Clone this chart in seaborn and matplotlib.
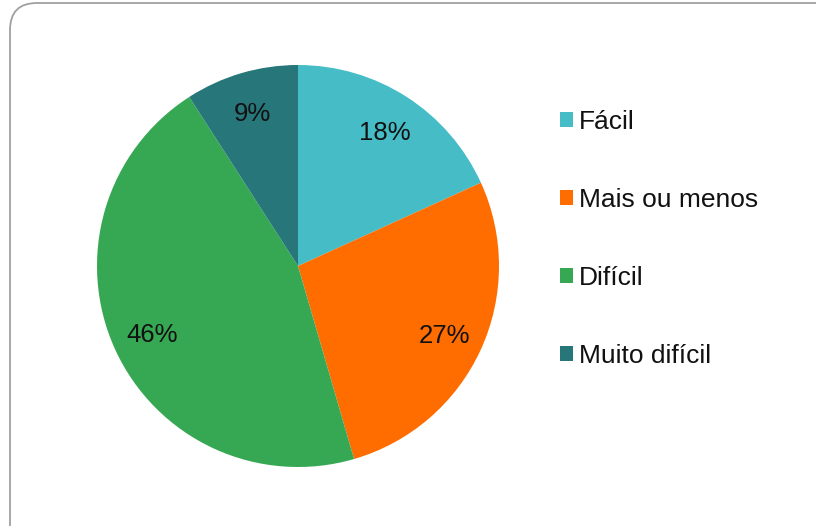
import matplotlib
matplotlib.use("Agg")
import matplotlib.pyplot as plt
from matplotlib.patches import FancyBboxPatch, Patch
import seaborn as sns

categories = ["Fácil", "Mais ou menos", "Difícil", "Muito difícil"]
shares = [18.2, 27.3, 45.4, 9.1]          # slice sizes
pct_labels = ["18%", "27%", "46%", "9%"]   # labels as printed on the chart
colors = ["#46BDC6", "#FF6D01", "#36A853", "#27767A"]

sns.set_theme(style="white")
plt.rcParams["font.family"] = ["Liberation Sans", "DejaVu Sans"]

W, H = 816, 526
fig = plt.figure(figsize=(W / 100, H / 100), dpi=100)
fig.patch.set_facecolor("white")

# rounded frame around the chart
frame = FancyBboxPatch((0.10, -0.5), 8.6, 5.73,
                       boxstyle="round,pad=0,rounding_size=0.27",
                       transform=fig.dpi_scale_trans, facecolor="none",
                       edgecolor="#a0a0a0", linewidth=1.3, zorder=-1)
fig.patches.append(frame)

cx, cy, r = 298, 266, 201
ax = fig.add_axes([(cx - r) / W, (H - cy - r) / H, 2 * r / W, 2 * r / H])
label_iter = iter(pct_labels)
wedges, texts, autotexts = ax.pie(
    shares, colors=colors, startangle=90, counterclock=False,
    autopct=lambda p: next(label_iter), pctdistance=0.8, radius=1.0,
    wedgeprops=dict(linewidth=0),
    textprops=dict(fontsize=18.5, color="#111111"))
for t in autotexts:
    t.set_verticalalignment("center_baseline")
ax.set_xlim(-1, 1)
ax.set_ylim(-1, 1)
ax.set_aspect("equal")
ax.axis("off")

handles = [Patch(facecolor=c, edgecolor="none") for c in colors]
fig.legend(handles, categories, loc="upper left",
           bbox_to_anchor=(549 / W, 1 - 99 / H), frameon=False,
           fontsize=19, handlelength=0.5, handleheight=0.5,
           handletextpad=0.25, labelspacing=2.05, borderaxespad=0,
           labelcolor="#111111")

fig.savefig("out.png", dpi=100, facecolor="white")
